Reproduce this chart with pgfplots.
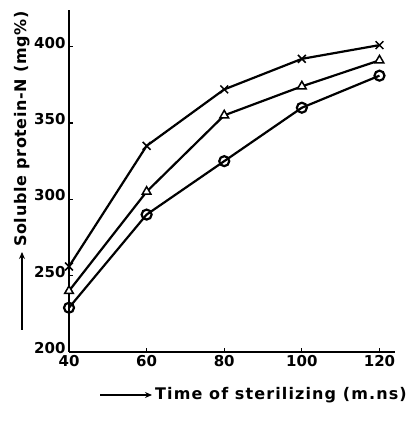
\documentclass[border=0pt]{standalone}
\usepackage{fontspec}
\setmainfont{DejaVu Sans}
\usepackage{pgfplots}
\pgfplotsset{compat=1.18}
\usetikzlibrary{calc,arrows.meta}

\begin{document}
\begin{tikzpicture}
\begin{axis}[
    scale only axis,
    width=326pt,
    height=342pt,
    xmin=40, xmax=124,
    ymin=200, ymax=424,
    axis lines=left,
    axis line style={-, line width=2pt},
    xtick={40,60,80,100,120},
    ytick={200,250,300,350,400},
    tick style={black, line width=1.2pt},
    major tick length=4pt,
    tick align=inside,
    /pgf/number format/assume math mode=true,
    ticklabel style={font=\fontsize{15}{17}\selectfont\bfseries},
    xticklabel style={yshift=0pt},
    yticklabel style={xshift=0pt, yshift=4pt},
    clip=false,
    every axis plot/.append style={black, line width=2.2pt,
        mark options={solid, line width=1.5pt, fill=white}},
]
% x series
\addplot[mark=x, mark size=5.5pt] coordinates {(40,256)(60,335)(80,372)(100,392)(120,401)};
% triangle series
\addplot[mark=triangle*, mark size=5pt] coordinates {(40,240)(60,305)(80,355)(100,374)(120,391)};
% circle series
\addplot[mark=o, mark size=5pt, mark options={fill=white}] coordinates {(40,229)(60,290)(80,325)(100,360)(120,381)};
\coordinate (o) at (rel axis cs:0,0);
\end{axis}
% y label with arrow
\draw[line width=1.6pt, -{Stealth[length=7pt,width=6pt]}] ($(o)+(-47pt,22pt)$) -- ($(o)+(-47pt,100pt)$);
\node[rotate=90, anchor=west, inner sep=1pt, font=\fontsize{16}{18}\selectfont\bfseries\addfontfeature{LetterSpace=4}] at ($(o)+(-47pt,104pt)$) {Soluble protein-N (mg\%)};
% x label with arrow
\draw[line width=1.6pt, -{Stealth[length=7pt,width=6pt]}] ($(o)+(31pt,-43pt)$) -- ($(o)+(83pt,-43pt)$);
\node[anchor=west, inner sep=1pt, font=\fontsize{16}{18}\selectfont\bfseries\addfontfeature{LetterSpace=7}] at ($(o)+(85pt,-43pt)$) {Time of sterilizing (m.ns)};
% fix the page to the reference proportions
\path ($(o)+(-69pt,-71pt)$) rectangle ($(o)+(349pt,352pt)$);
\end{tikzpicture}
\end{document}
